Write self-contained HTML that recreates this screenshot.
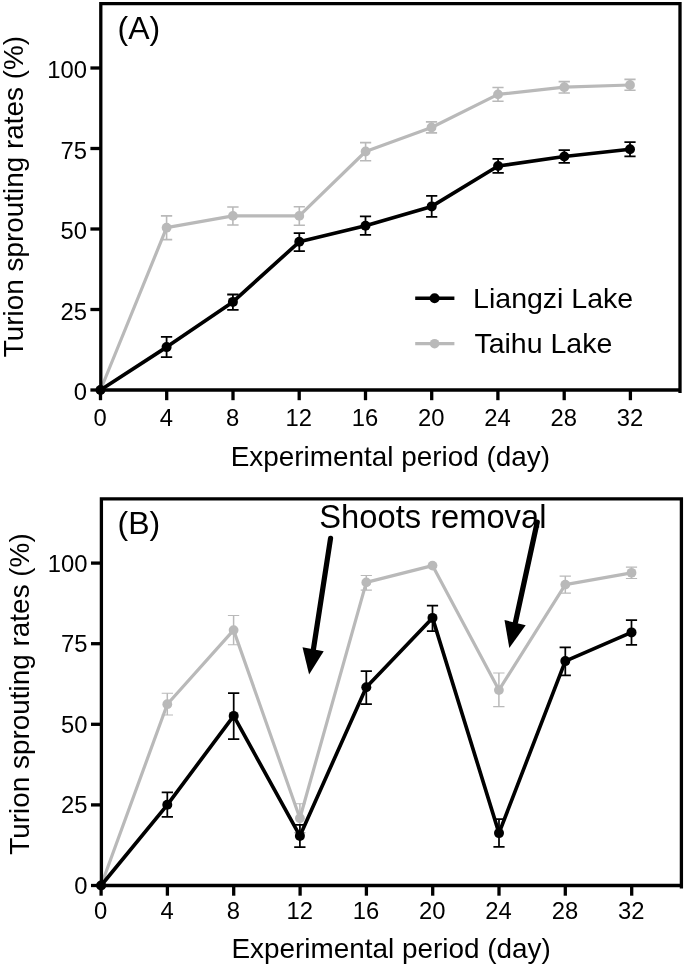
<!DOCTYPE html>
<html lang="en"><head><meta charset="utf-8"><title>Turion sprouting rates</title>
<style>html,body{margin:0;padding:0;background:#fff}body{width:685px;height:967px;overflow:hidden}svg{display:block;will-change:transform}text{font-family:'Liberation Sans', Arial, Helvetica, sans-serif;fill:#000}</style>
</head><body>
<svg width="685" height="967" viewBox="0 0 685 967">
<rect width="685" height="967" fill="#fff"/>
<g id="panelA">
<path d="M166.6 215.9V239.6" stroke="#b9b9b9" stroke-width="1.6" fill="none"/>
<path d="M160.9 215.9H172.2M160.9 239.6H172.2" stroke="#b9b9b9" stroke-width="1.6" fill="none"/>
<path d="M232.9 207.0V225.0" stroke="#b9b9b9" stroke-width="1.6" fill="none"/>
<path d="M227.2 207.0H238.6M227.2 225.0H238.6" stroke="#b9b9b9" stroke-width="1.6" fill="none"/>
<path d="M299.3 206.8V225.2" stroke="#b9b9b9" stroke-width="1.6" fill="none"/>
<path d="M293.7 206.8H304.9M293.7 225.2H304.9" stroke="#b9b9b9" stroke-width="1.6" fill="none"/>
<path d="M365.6 142.6V160.8" stroke="#b9b9b9" stroke-width="1.6" fill="none"/>
<path d="M360.0 142.6H371.2M360.0 160.8H371.2" stroke="#b9b9b9" stroke-width="1.6" fill="none"/>
<path d="M431.5 121.9V132.9" stroke="#b9b9b9" stroke-width="1.6" fill="none"/>
<path d="M425.9 121.9H437.1M425.9 132.9H437.1" stroke="#b9b9b9" stroke-width="1.6" fill="none"/>
<path d="M498.0 87.5V101.3" stroke="#b9b9b9" stroke-width="1.6" fill="none"/>
<path d="M492.4 87.5H503.6M492.4 101.3H503.6" stroke="#b9b9b9" stroke-width="1.6" fill="none"/>
<path d="M564.3 81.6V93.0" stroke="#b9b9b9" stroke-width="1.6" fill="none"/>
<path d="M558.6 81.6H569.9M558.6 93.0H569.9" stroke="#b9b9b9" stroke-width="1.6" fill="none"/>
<path d="M630.0 79.4V90.2" stroke="#b9b9b9" stroke-width="1.6" fill="none"/>
<path d="M624.4 79.4H635.6M624.4 90.2H635.6" stroke="#b9b9b9" stroke-width="1.6" fill="none"/>
<polyline points="100.5,390.0 166.6,227.7 232.9,215.9 299.3,215.9 365.6,151.5 431.5,127.5 498.0,94.4 564.3,87.2 630.0,85.0" fill="none" stroke="#b9b9b9" stroke-width="3.2" stroke-linejoin="round"/>
<circle cx="100.5" cy="390.0" r="4.9" fill="#b9b9b9"/>
<circle cx="166.6" cy="227.7" r="4.9" fill="#b9b9b9"/>
<circle cx="232.9" cy="215.9" r="4.9" fill="#b9b9b9"/>
<circle cx="299.3" cy="215.9" r="4.9" fill="#b9b9b9"/>
<circle cx="365.6" cy="151.5" r="4.9" fill="#b9b9b9"/>
<circle cx="431.5" cy="127.5" r="4.9" fill="#b9b9b9"/>
<circle cx="498.0" cy="94.4" r="4.9" fill="#b9b9b9"/>
<circle cx="564.3" cy="87.2" r="4.9" fill="#b9b9b9"/>
<circle cx="630.0" cy="85.0" r="4.9" fill="#b9b9b9"/>
<path d="M166.6 336.9V357.1" stroke="#000" stroke-width="1.8" fill="none"/>
<path d="M160.9 336.9H172.2M160.9 357.1H172.2" stroke="#000" stroke-width="1.8" fill="none"/>
<path d="M232.9 294.5V309.8" stroke="#000" stroke-width="1.8" fill="none"/>
<path d="M227.2 294.5H238.6M227.2 309.8H238.6" stroke="#000" stroke-width="1.8" fill="none"/>
<path d="M299.3 233.1V251.1" stroke="#000" stroke-width="1.8" fill="none"/>
<path d="M293.7 233.1H304.9M293.7 251.1H304.9" stroke="#000" stroke-width="1.8" fill="none"/>
<path d="M365.5 216.4V234.8" stroke="#000" stroke-width="1.8" fill="none"/>
<path d="M359.9 216.4H371.1M359.9 234.8H371.1" stroke="#000" stroke-width="1.8" fill="none"/>
<path d="M431.7 195.9V216.9" stroke="#000" stroke-width="1.8" fill="none"/>
<path d="M426.1 195.9H437.3M426.1 216.9H437.3" stroke="#000" stroke-width="1.8" fill="none"/>
<path d="M498.1 158.9V172.8" stroke="#000" stroke-width="1.8" fill="none"/>
<path d="M492.5 158.9H503.8M492.5 172.8H503.8" stroke="#000" stroke-width="1.8" fill="none"/>
<path d="M564.3 150.2V162.9" stroke="#000" stroke-width="1.8" fill="none"/>
<path d="M558.6 150.2H569.9M558.6 162.9H569.9" stroke="#000" stroke-width="1.8" fill="none"/>
<path d="M630.0 142.1V156.3" stroke="#000" stroke-width="1.8" fill="none"/>
<path d="M624.4 142.1H635.6M624.4 156.3H635.6" stroke="#000" stroke-width="1.8" fill="none"/>
<polyline points="100.5,390.0 166.6,347.1 232.9,301.9 299.3,241.8 365.5,225.7 431.7,206.4 498.1,166.0 564.3,156.5 630.0,149.3" fill="none" stroke="#000" stroke-width="3.65" stroke-linejoin="round"/>
<circle cx="100.5" cy="390.0" r="5.0" fill="#000"/>
<circle cx="166.6" cy="347.1" r="5.0" fill="#000"/>
<circle cx="232.9" cy="301.9" r="5.0" fill="#000"/>
<circle cx="299.3" cy="241.8" r="5.0" fill="#000"/>
<circle cx="365.5" cy="225.7" r="5.0" fill="#000"/>
<circle cx="431.7" cy="206.4" r="5.0" fill="#000"/>
<circle cx="498.1" cy="166.0" r="5.0" fill="#000"/>
<circle cx="564.3" cy="156.5" r="5.0" fill="#000"/>
<circle cx="630.0" cy="149.3" r="5.0" fill="#000"/>
<path d="M100.8 390.0V3.65H680.0V393.0M99.15 390.0H681.65" fill="none" stroke="#000" stroke-width="3.3" stroke-linecap="butt" stroke-linejoin="miter"/>
<line x1="90.4" y1="390.0" x2="100.8" y2="390.0" stroke="#000" stroke-width="3.3"/>
<text x="86.9" y="400.0" text-anchor="end" font-size="23.8">0</text>
<line x1="90.4" y1="309.5" x2="100.8" y2="309.5" stroke="#000" stroke-width="3.3"/>
<text x="86.9" y="319.5" text-anchor="end" font-size="23.8">25</text>
<line x1="90.4" y1="229.0" x2="100.8" y2="229.0" stroke="#000" stroke-width="3.3"/>
<text x="86.9" y="239.0" text-anchor="end" font-size="23.8">50</text>
<line x1="90.4" y1="148.5" x2="100.8" y2="148.5" stroke="#000" stroke-width="3.3"/>
<text x="86.9" y="158.5" text-anchor="end" font-size="23.8">75</text>
<line x1="90.4" y1="68.0" x2="100.8" y2="68.0" stroke="#000" stroke-width="3.3"/>
<text x="86.9" y="78.0" text-anchor="end" font-size="23.8">100</text>
<line x1="100.5" y1="390.0" x2="100.5" y2="400.2" stroke="#000" stroke-width="3.3"/>
<text x="100.1" y="426.1" text-anchor="middle" font-size="23.8">0</text>
<line x1="166.7" y1="390.0" x2="166.7" y2="400.2" stroke="#000" stroke-width="3.3"/>
<text x="166.3" y="426.1" text-anchor="middle" font-size="23.8">4</text>
<line x1="233.0" y1="390.0" x2="233.0" y2="400.2" stroke="#000" stroke-width="3.3"/>
<text x="232.6" y="426.1" text-anchor="middle" font-size="23.8">8</text>
<line x1="299.2" y1="390.0" x2="299.2" y2="400.2" stroke="#000" stroke-width="3.3"/>
<text x="298.8" y="426.1" text-anchor="middle" font-size="23.8">12</text>
<line x1="365.5" y1="390.0" x2="365.5" y2="400.2" stroke="#000" stroke-width="3.3"/>
<text x="365.1" y="426.1" text-anchor="middle" font-size="23.8">16</text>
<line x1="431.7" y1="390.0" x2="431.7" y2="400.2" stroke="#000" stroke-width="3.3"/>
<text x="431.3" y="426.1" text-anchor="middle" font-size="23.8">20</text>
<line x1="497.9" y1="390.0" x2="497.9" y2="400.2" stroke="#000" stroke-width="3.3"/>
<text x="497.5" y="426.1" text-anchor="middle" font-size="23.8">24</text>
<line x1="564.2" y1="390.0" x2="564.2" y2="400.2" stroke="#000" stroke-width="3.3"/>
<text x="563.8" y="426.1" text-anchor="middle" font-size="23.8">28</text>
<line x1="630.4" y1="390.0" x2="630.4" y2="400.2" stroke="#000" stroke-width="3.3"/>
<text x="630.0" y="426.1" text-anchor="middle" font-size="23.8">32</text>
<text x="390.3" y="465.5" text-anchor="middle" font-size="27.9">Experimental period (day)</text>
<text transform="translate(22.8 196.6) rotate(-90)" text-anchor="middle" font-size="27.9">Turion sprouting rates (%)</text>
<text x="117.6" y="39.2" font-size="32.0">(A)</text>
<line x1="415.2" y1="298.2" x2="454.4" y2="298.2" stroke="#000" stroke-width="3.5"/><circle cx="434.6" cy="298.2" r="5" fill="#000"/>
<text x="473.1" y="307.8" font-size="28.5">Liangzi Lake</text>
<line x1="415.2" y1="343.7" x2="454.4" y2="343.7" stroke="#b9b9b9" stroke-width="3.2"/><circle cx="434.6" cy="343.7" r="4.8" fill="#b9b9b9"/>
<text x="474.4" y="353" font-size="28.5">Taihu Lake</text>
</g>
<g id="panelB">
<path d="M167.3 693.3V715.0" stroke="#b9b9b9" stroke-width="1.5" fill="none"/>
<path d="M161.7 693.3H173.0M161.7 715.0H173.0" stroke="#b9b9b9" stroke-width="1.05" fill="none"/>
<path d="M233.6 615.4V644.8" stroke="#b9b9b9" stroke-width="1.5" fill="none"/>
<path d="M227.9 615.4H239.2M227.9 644.8H239.2" stroke="#b9b9b9" stroke-width="1.05" fill="none"/>
<path d="M299.9 803.8V832.6" stroke="#b9b9b9" stroke-width="1.5" fill="none"/>
<path d="M294.2 803.8H305.5M294.2 832.6H305.5" stroke="#b9b9b9" stroke-width="1.05" fill="none"/>
<path d="M366.3 575.4V590.1" stroke="#b9b9b9" stroke-width="1.5" fill="none"/>
<path d="M360.7 575.4H371.9M360.7 590.1H371.9" stroke="#b9b9b9" stroke-width="1.05" fill="none"/>
<path d="M498.9 672.9V706.6" stroke="#b9b9b9" stroke-width="1.5" fill="none"/>
<path d="M493.2 672.9H504.5M493.2 706.6H504.5" stroke="#b9b9b9" stroke-width="1.05" fill="none"/>
<path d="M565.3 576.1V593.1" stroke="#b9b9b9" stroke-width="1.5" fill="none"/>
<path d="M559.6 576.1H570.9M559.6 593.1H570.9" stroke="#b9b9b9" stroke-width="1.05" fill="none"/>
<path d="M631.5 567.1V578.5" stroke="#b9b9b9" stroke-width="1.5" fill="none"/>
<path d="M625.9 567.1H637.1M625.9 578.5H637.1" stroke="#b9b9b9" stroke-width="1.05" fill="none"/>
<polyline points="101.1,885.5 167.3,704.2 233.6,630.1 299.9,818.2 366.3,582.4 432.5,565.6 498.9,690.1 565.3,584.6 631.5,572.8" fill="none" stroke="#b9b9b9" stroke-width="3.2" stroke-linejoin="round"/>
<circle cx="101.1" cy="885.5" r="4.9" fill="#b9b9b9"/>
<circle cx="167.3" cy="704.2" r="4.9" fill="#b9b9b9"/>
<circle cx="233.6" cy="630.1" r="4.9" fill="#b9b9b9"/>
<circle cx="299.9" cy="818.2" r="4.9" fill="#b9b9b9"/>
<circle cx="366.3" cy="582.4" r="4.9" fill="#b9b9b9"/>
<circle cx="432.5" cy="565.6" r="4.9" fill="#b9b9b9"/>
<circle cx="498.9" cy="690.1" r="4.9" fill="#b9b9b9"/>
<circle cx="565.3" cy="584.6" r="4.9" fill="#b9b9b9"/>
<circle cx="631.5" cy="572.8" r="4.9" fill="#b9b9b9"/>
<path d="M167.3 792.4V816.8" stroke="#000" stroke-width="1.75" fill="none"/>
<path d="M161.7 792.4H173.0M161.7 816.8H173.0" stroke="#000" stroke-width="1.75" fill="none"/>
<path d="M233.7 693.0V739.2" stroke="#000" stroke-width="1.75" fill="none"/>
<path d="M228.0 693.0H239.3M228.0 739.2H239.3" stroke="#000" stroke-width="1.75" fill="none"/>
<path d="M299.9 824.8V847.1" stroke="#000" stroke-width="1.75" fill="none"/>
<path d="M294.2 824.8H305.5M294.2 847.1H305.5" stroke="#000" stroke-width="1.75" fill="none"/>
<path d="M366.3 671.0V704.1" stroke="#000" stroke-width="1.75" fill="none"/>
<path d="M360.7 671.0H371.9M360.7 704.1H371.9" stroke="#000" stroke-width="1.75" fill="none"/>
<path d="M432.5 605.6V631.0" stroke="#000" stroke-width="1.75" fill="none"/>
<path d="M426.9 605.6H438.1M426.9 631.0H438.1" stroke="#000" stroke-width="1.75" fill="none"/>
<path d="M499.0 819.0V846.9" stroke="#000" stroke-width="1.75" fill="none"/>
<path d="M493.4 819.0H504.6M493.4 846.9H504.6" stroke="#000" stroke-width="1.75" fill="none"/>
<path d="M565.3 647.4V675.3" stroke="#000" stroke-width="1.75" fill="none"/>
<path d="M559.6 647.4H570.9M559.6 675.3H570.9" stroke="#000" stroke-width="1.75" fill="none"/>
<path d="M631.5 620.1V644.8" stroke="#000" stroke-width="1.75" fill="none"/>
<path d="M625.9 620.1H637.1M625.9 644.8H637.1" stroke="#000" stroke-width="1.75" fill="none"/>
<polyline points="101.1,885.5 167.3,804.8 233.7,715.9 299.9,835.9 366.3,687.2 432.5,617.9 499.0,833.1 565.3,661.1 631.5,632.4" fill="none" stroke="#000" stroke-width="3.65" stroke-linejoin="round"/>
<circle cx="101.1" cy="885.5" r="5.0" fill="#000"/>
<circle cx="167.3" cy="804.8" r="5.0" fill="#000"/>
<circle cx="233.7" cy="715.9" r="5.0" fill="#000"/>
<circle cx="299.9" cy="835.9" r="5.0" fill="#000"/>
<circle cx="366.3" cy="687.2" r="5.0" fill="#000"/>
<circle cx="432.5" cy="617.9" r="5.0" fill="#000"/>
<circle cx="499.0" cy="833.1" r="5.0" fill="#000"/>
<circle cx="565.3" cy="661.1" r="5.0" fill="#000"/>
<circle cx="631.5" cy="632.4" r="5.0" fill="#000"/>
<path d="M101.4 885.5V498.9H681.4V888.5M99.75 885.5H683.05" fill="none" stroke="#000" stroke-width="3.3" stroke-linecap="butt" stroke-linejoin="miter"/>
<line x1="91.0" y1="885.5" x2="101.4" y2="885.5" stroke="#000" stroke-width="3.3"/>
<text x="87.5" y="894.0" text-anchor="end" font-size="23.8">0</text>
<line x1="91.0" y1="804.9" x2="101.4" y2="804.9" stroke="#000" stroke-width="3.3"/>
<text x="87.5" y="813.4" text-anchor="end" font-size="23.8">25</text>
<line x1="91.0" y1="724.3" x2="101.4" y2="724.3" stroke="#000" stroke-width="3.3"/>
<text x="87.5" y="732.8" text-anchor="end" font-size="23.8">50</text>
<line x1="91.0" y1="643.7" x2="101.4" y2="643.7" stroke="#000" stroke-width="3.3"/>
<text x="87.5" y="652.2" text-anchor="end" font-size="23.8">75</text>
<line x1="91.0" y1="563.1" x2="101.4" y2="563.1" stroke="#000" stroke-width="3.3"/>
<text x="87.5" y="571.6" text-anchor="end" font-size="23.8">100</text>
<line x1="101.1" y1="885.5" x2="101.1" y2="895.7" stroke="#000" stroke-width="3.3"/>
<text x="100.7" y="918.9" text-anchor="middle" font-size="23.8">0</text>
<line x1="167.4" y1="885.5" x2="167.4" y2="895.7" stroke="#000" stroke-width="3.3"/>
<text x="167.0" y="918.9" text-anchor="middle" font-size="23.8">4</text>
<line x1="233.7" y1="885.5" x2="233.7" y2="895.7" stroke="#000" stroke-width="3.3"/>
<text x="233.3" y="918.9" text-anchor="middle" font-size="23.8">8</text>
<line x1="300.1" y1="885.5" x2="300.1" y2="895.7" stroke="#000" stroke-width="3.3"/>
<text x="299.7" y="918.9" text-anchor="middle" font-size="23.8">12</text>
<line x1="366.4" y1="885.5" x2="366.4" y2="895.7" stroke="#000" stroke-width="3.3"/>
<text x="366.0" y="918.9" text-anchor="middle" font-size="23.8">16</text>
<line x1="432.7" y1="885.5" x2="432.7" y2="895.7" stroke="#000" stroke-width="3.3"/>
<text x="432.3" y="918.9" text-anchor="middle" font-size="23.8">20</text>
<line x1="499.0" y1="885.5" x2="499.0" y2="895.7" stroke="#000" stroke-width="3.3"/>
<text x="498.6" y="918.9" text-anchor="middle" font-size="23.8">24</text>
<line x1="565.3" y1="885.5" x2="565.3" y2="895.7" stroke="#000" stroke-width="3.3"/>
<text x="564.9" y="918.9" text-anchor="middle" font-size="23.8">28</text>
<line x1="631.7" y1="885.5" x2="631.7" y2="895.7" stroke="#000" stroke-width="3.3"/>
<text x="631.3" y="918.9" text-anchor="middle" font-size="23.8">32</text>
<text x="391.2" y="958.4" text-anchor="middle" font-size="27.9">Experimental period (day)</text>
<text transform="translate(28.9 694.0) rotate(-90)" text-anchor="middle" font-size="27.9">Turion sprouting rates (%)</text>
<text x="117.6" y="534.2" font-size="32.0">(B)</text>
<text x="319.3" y="528.0" font-size="32.7">Shoots removal</text>
<line x1="330.55" y1="538.4" x2="313.3" y2="650" stroke="#000" stroke-width="5.2" stroke-linecap="round"/>
<polygon points="302.5,647.3 323.7,651.2 309.1,674.5" fill="#000"/>
<line x1="537.2" y1="522.2" x2="515.4" y2="622.5" stroke="#000" stroke-width="5.3" stroke-linecap="round"/>
<polygon points="504.5,620.0 525.7,625.3 509.3,647.9" fill="#000"/>
</g>
</svg></body></html>
